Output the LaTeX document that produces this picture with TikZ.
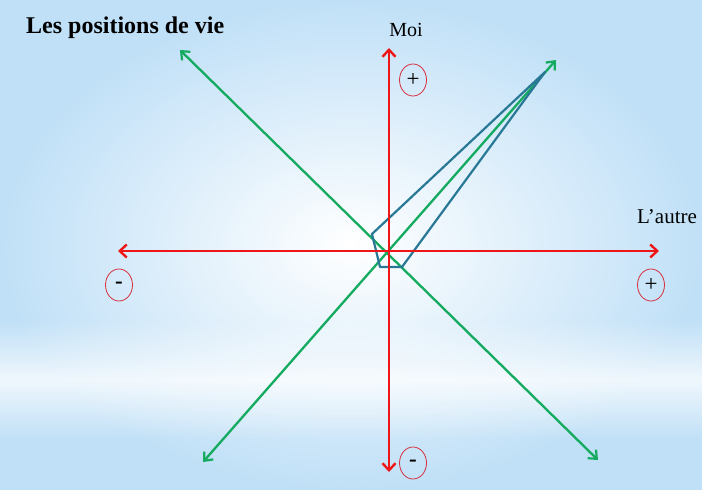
\documentclass[tikz,border=0pt]{standalone}
\usepackage{fontspec}
\setmainfont{Liberation Serif}
\usetikzlibrary{arrows.meta,shapes.geometric,fadings}
\definecolor{axred}{RGB}{238,22,22}
\definecolor{diaggreen}{RGB}{20,170,95}
\definecolor{polyblue}{RGB}{40,120,150}
\definecolor{circred}{RGB}{215,45,60}
\definecolor{bgblue}{RGB}{192,224,247}
\tikzfading[name=band,top color=transparent!100,bottom color=transparent!100,middle color=transparent!0]
\tikzset{
  axis/.style={draw=axred,line width=2.7pt,-{Straight Barb[length=7pt,width=13pt,line width=2.4pt]}},
  diag/.style={draw=diaggreen,line width=2.3pt,{Straight Barb[length=7pt,width=12pt,line width=2.2pt]}-{Straight Barb[length=7pt,width=12pt,line width=2.2pt]}},
  poly/.style={draw=polyblue,line width=2.2pt,line join=round},
  sign/.style={ellipse,draw=circred,line width=0.8pt,minimum width=27pt,minimum height=32pt,inner sep=0pt,font=\fontsize{23}{25}\selectfont},
  lbl/.style={font=\fontsize{20}{22}\selectfont,inner sep=0pt}
}
\begin{document}
\begin{tikzpicture}[x=1pt,y=-1pt]
\useasboundingbox (0,0) rectangle (702,490);
\shade[inner color=white,outer color=bgblue] (0,0) rectangle (702,490);
\fill[white,path fading=band,opacity=0.75] (0,320) rectangle (702,440);
% coordinates
\coordinate (O) at (389,251);
\coordinate (T) at (389,48);
\coordinate (B) at (389,472);
\coordinate (L) at (118,251);
\coordinate (R) at (659,251);
\coordinate (NW) at (180,50);
\coordinate (SE) at (598,460);
\coordinate (SW) at (203,462);
\coordinate (NE) at (556,60);
\coordinate (P1) at (372,234);
\coordinate (P2) at (380,267);
\coordinate (P3) at (402,267);
\coordinate (P4) at (545,72);
% green diagonals
\draw[diag] (SE) -- (NW);
\draw[diag] (SW) -- (NE);
% blue polygon
\draw[poly] (P1) -- (P2) -- (P3) -- (P4) -- cycle;
% red axes
\draw[axis] (O) -- (T);
\draw[axis] (O) -- (B);
\draw[axis] (O) -- (L);
\draw[axis] (O) -- (R);
% labels
\node[lbl,anchor=west,font=\fontsize{24}{27}\selectfont\bfseries] (title) at (26,28) {Les positions de vie};
\node[lbl] (moi) at (406,30) {Moi};
\node[lbl,font=\fontsize{21}{23}\selectfont] (autre) at (667,217) {L’autre};
\node[sign] (mp) at (413,80) {+};
\node[sign] (rp) at (651,285) {+};
\node[sign] (lm) at (119,285) {\textbf{-}};
\node[sign] (bm) at (413,463) {\textbf{-}};
\end{tikzpicture}
\end{document}
